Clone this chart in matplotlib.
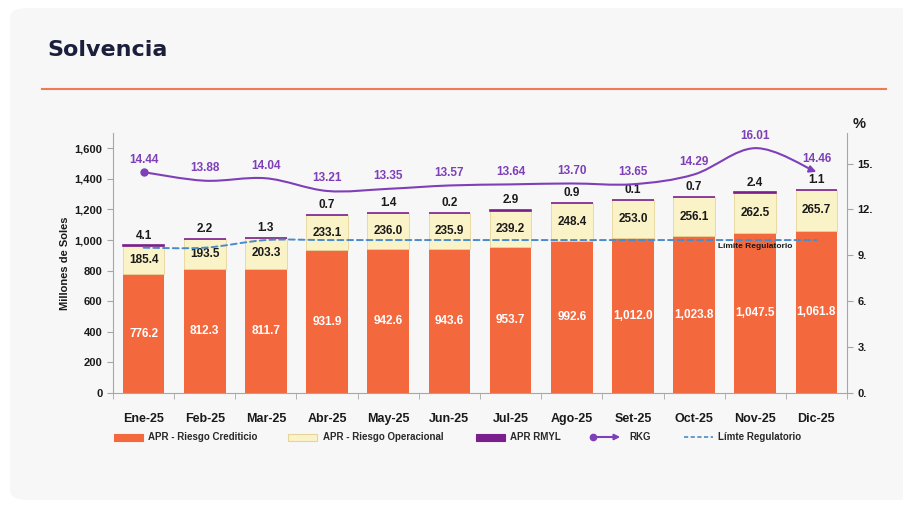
import matplotlib.pyplot as plt
import matplotlib.ticker as mticker
from matplotlib.patches import FancyBboxPatch, FancyArrowPatch, Rectangle
from matplotlib.path import Path
from matplotlib.lines import Line2D
import numpy as np

plt.rcParams['font.family'] = ['Liberation Sans', 'DejaVu Sans']

# data
meses = ['Ene-25', 'Feb-25', 'Mar-25', 'Abr-25', 'May-25', 'Jun-25',
         'Jul-25', 'Ago-25', 'Set-25', 'Oct-25', 'Nov-25', 'Dic-25']
credito = [776.2, 812.3, 811.7, 931.9, 942.6, 943.6, 953.7, 992.6, 1012.0, 1023.8, 1047.5, 1061.8]
operacional = [185.4, 193.5, 203.3, 233.1, 236.0, 235.9, 239.2, 248.4, 253.0, 256.1, 262.5, 265.7]
rmyl = [4.1, 2.2, 1.3, 0.7, 1.4, 0.2, 2.9, 0.9, 0.1, 0.7, 2.4, 1.1]
rkg = [14.44, 13.88, 14.04, 13.21, 13.35, 13.57, 13.64, 13.70, 13.65, 14.29, 16.01, 14.46]
limite = [9.5, 9.5, 10.0, 10.0, 10.0, 10.0, 10.0, 10.0, 10.0, 10.0, 10.0, 10.0]

C_CRED = '#F4683E'
C_OPER = '#FBF3C8'
C_RMYL = '#7B1F8E'
C_RKG = '#7E3FB8'
C_LIM = '#4A8BC8'
TXT = '#1a1a1a'


def smooth_path(x, y):
    # bezier segments through the points (Excel style smoothed line)
    pts = list(zip(x, y))
    verts = [pts[0]]
    codes = [Path.MOVETO]
    n = len(pts)
    for i in range(n - 1):
        p0 = pts[i - 1] if i > 0 else pts[i]
        p1 = pts[i]
        p2 = pts[i + 1]
        p3 = pts[i + 2] if i + 2 < n else pts[i + 1]
        c1 = (p1[0] + (p2[0] - p0[0]) / 6, p1[1] + (p2[1] - p0[1]) / 6)
        c2 = (p2[0] - (p3[0] - p1[0]) / 6, p2[1] - (p3[1] - p1[1]) / 6)
        verts += [c1, c2, p2]
        codes += [Path.CURVE4] * 3
    return Path(verts, codes)


def fx(px):
    return px / 904


def fy(py):
    return 1 - py / 507


fig = plt.figure(figsize=(9.04, 5.07), dpi=100)
fig.patch.set_facecolor('white')

card = FancyBboxPatch((fx(10), fy(500)), 1.0, 492 / 507,
                      boxstyle='round,pad=0,rounding_size=0.02',
                      transform=fig.transFigure, facecolor='#F7F7F7',
                      edgecolor='none', zorder=-5)
fig.patches.append(card)

fig.text(fx(47), fy(50), 'Solvencia', fontsize=16, fontweight='bold',
         color='#1B1F3B', va='center', ha='left', family=['DejaVu Sans'])
fig.add_artist(Line2D([fx(42), fx(886)], [fy(89), fy(89)],
                      transform=fig.transFigure, color='#F07A55', lw=1.5))

ax = fig.add_axes([fx(113), fy(393), 734 / 904, 260 / 507])
ax.set_facecolor('none')
x = np.arange(len(meses))
w = 0.68

ax.bar(x, credito, w, color=C_CRED, zorder=2)
ax.bar(x, operacional, w, bottom=credito, color=C_OPER, edgecolor='#E6D49A',
       linewidth=0.6, zorder=2)
base2 = [a + b for a, b in zip(credito, operacional)]
ax.bar(x, rmyl, w, bottom=base2, color=C_RMYL, edgecolor=C_RMYL, linewidth=1.2, zorder=2)

for i in range(len(meses)):
    ax.text(x[i], credito[i] / 2, f'{credito[i]:,.1f}', ha='center', va='center',
            color='white', fontsize=8.5, fontweight='bold', zorder=5)
    ax.text(x[i], credito[i] + operacional[i] / 2, f'{operacional[i]:,.1f}',
            ha='center', va='center', color=TXT, fontsize=8.5,
            fontweight='bold', zorder=5)
    ax.annotate(f'{rmyl[i]:,.1f}', (x[i], base2[i] + rmyl[i]), xytext=(0, 7),
                textcoords='offset points', ha='center', va='center',
                color=TXT, fontsize=8.5, fontweight='bold', zorder=5)

ax.set_xlim(-0.5, len(meses) - 0.5)
ax.set_ylim(0, 1700)
ax.set_yticks(np.arange(0, 1601, 200))
ax.yaxis.set_major_formatter(mticker.FuncFormatter(lambda v, p: f'{v:,.0f}'))
ax.set_xticks(x)
ax.set_xticklabels(meses, fontsize=9, fontweight='bold', color=TXT, va='baseline')
ax.set_xticks(np.arange(-0.5, len(meses), 1), minor=True)
ax.tick_params(axis='x', which='major', length=0, pad=21)
ax.tick_params(axis='x', which='minor', length=4, color='#A6A6A6')
ax.tick_params(axis='y', length=4, color='#A6A6A6', labelsize=8, labelcolor=TXT)
for t in ax.get_yticklabels():
    t.set_fontweight('bold')
ax.set_ylabel('Millones de Soles', fontsize=8, fontweight='bold', color=TXT, labelpad=3)
for s in ['top', 'right']:
    ax.spines[s].set_visible(False)
for s in ['left', 'bottom']:
    ax.spines[s].set_color('#A6A6A6')

ax2 = ax.twinx()
ax2.set_ylim(0, 17)
ax2.set_yticks(np.arange(0, 16, 3))
ax2.yaxis.set_major_formatter(mticker.FuncFormatter(lambda v, p: f'{v:.0f}.'))
ax2.tick_params(axis='y', length=4, color='#A6A6A6', labelsize=8, labelcolor=TXT)
for t in ax2.get_yticklabels():
    t.set_fontweight('bold')
for s in ['top', 'left', 'bottom']:
    ax2.spines[s].set_visible(False)
ax2.spines['right'].set_color('#A6A6A6')
fig.text(fx(859), fy(124), '%', fontsize=10.5, fontweight='bold',
         ha='center', va='center', color=TXT)

# limite regulatorio
ax2.add_patch(FancyArrowPatch(path=smooth_path(x, limite), arrowstyle='-',
                              color=C_LIM, lw=1.4, linestyle=(0, (3, 2)),
                              transform=ax2.transData, zorder=3))
ax2.text(10.0, 9.6, 'Límite Regulatorio', fontsize=6, fontweight='bold',
         color=TXT, ha='center', va='center', zorder=5)

# RKG
ax2.add_patch(FancyArrowPatch(path=smooth_path(x, rkg), arrowstyle='-|>',
                              mutation_scale=10, color=C_RKG, lw=1.5,
                              transform=ax2.transData, zorder=4))
ax2.plot(x[0], rkg[0], 'o', color=C_RKG, ms=5, zorder=4)
for i in range(len(meses)):
    ax2.annotate(f'{rkg[i]:.2f}', (x[i], rkg[i]), xytext=(0, 9),
                 textcoords='offset points', ha='center', va='center',
                 color=C_RKG, fontsize=8.5, fontweight='bold', zorder=5)

# legend, drawn by hand to follow the original spacing
ly = fy(437)
ph = 7 / 507
for x0, col, ec in [(114, C_CRED, C_CRED), (288, C_OPER, '#E6D49A'), (476, C_RMYL, C_RMYL)]:
    fig.add_artist(Rectangle((fx(x0), ly - ph / 2), 29 / 904, ph, facecolor=col,
                             edgecolor=ec, lw=0.8, transform=fig.transFigure))
fig.add_artist(FancyArrowPatch((fx(593), ly), (fx(623), ly), arrowstyle='-|>',
                               mutation_scale=8, color=C_RKG, lw=1.5,
                               transform=fig.transFigure))
fig.add_artist(Line2D([fx(593)], [ly], marker='o', ms=4.5, color=C_RKG,
                      transform=fig.transFigure))
fig.add_artist(Line2D([fx(684), fx(713)], [ly, ly], color=C_LIM, lw=1.2,
                      linestyle=(0, (2.5, 1.5)), transform=fig.transFigure))
leg_txt = [(148, 'APR - Riesgo Crediticio'), (323, 'APR - Riesgo Operacional'),
           (510, 'APR RMYL'), (629, 'RKG'), (718, 'Límte Regulatorio')]
for x0, s in leg_txt:
    fig.text(fx(x0), ly, s, fontsize=7, fontweight='bold', color='#2a2a2a',
             ha='left', va='center')

fig.savefig('out.png', dpi=100)
